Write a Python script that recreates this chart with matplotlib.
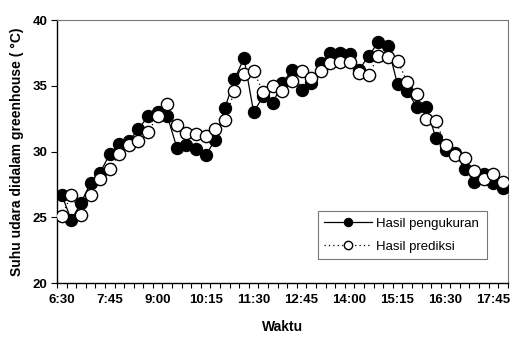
#!/usr/bin/env python3

import matplotlib
matplotlib.use("Agg")
import matplotlib.pyplot as plt
from matplotlib.ticker import FixedLocator

plt.rcParams["font.family"] = ["Liberation Sans", "DejaVu Sans"]

# 15-minute readings, 6:30 .. 18:00
times = ["6:30", "6:45", "7:00", "7:15", "7:30", "7:45", "8:00", "8:15", "8:30", "8:45",
         "9:00", "9:15", "9:30", "9:45", "10:00", "10:15", "10:30", "10:45", "11:00", "11:15",
         "11:30", "11:45", "12:00", "12:15", "12:30", "12:45", "13:00", "13:15", "13:30", "13:45",
         "14:00", "14:15", "14:30", "14:45", "15:00", "15:15", "15:30", "15:45", "16:00", "16:15",
         "16:30", "16:45", "17:00", "17:15", "17:30", "17:45", "18:00"]

pengukuran = [26.7, 24.8, 26.1, 27.6, 28.4, 29.8, 30.6, 30.8, 31.7, 32.7,
              33.0, 32.7, 30.3, 30.5, 30.2, 29.7, 30.9, 33.3, 35.5, 37.1,
              33.0, 34.2, 33.7, 35.2, 36.2, 34.7, 35.2, 36.7, 37.5, 37.5,
              37.4, 36.2, 37.3, 38.3, 38.0, 35.1, 34.6, 33.4, 33.4, 31.0,
              30.1, 29.9, 28.7, 27.7, 28.3, 27.6, 27.2]

prediksi = [25.1, 26.7, 25.2, 26.7, 27.9, 28.7, 29.8, 30.5, 30.8, 31.5,
            32.7, 33.6, 32.0, 31.4, 31.3, 31.2, 31.7, 32.4, 34.6, 35.9,
            36.1, 34.5, 35.0, 34.6, 35.4, 36.1, 35.6, 36.1, 36.7, 36.8,
            36.8, 36.0, 35.8, 37.3, 37.2, 36.9, 35.3, 34.4, 32.5, 32.3,
            30.5, 29.7, 29.5, 28.5, 27.9, 28.3, 27.7]

y_ticks = [20, 25, 30, 35, 40]


def main():
    fig = plt.figure(figsize=(5.13, 3.39), dpi=100)
    ax = fig.add_axes([0.111, 0.165, 0.879, 0.776])

    x = list(range(len(times)))

    ax.plot(x, pengukuran, color="black", lw=0.9, marker="o", ms=8.8,
            mfc="black", mec="black", mew=0.8, label="Hasil pengukuran", zorder=3)
    ax.plot(x, prediksi, color="black", lw=0.9, ls=(0, (1, 2.5)), marker="o", ms=8.8,
            mfc="white", mec="black", mew=1.0, label="Hasil prediksi", zorder=4)

    ax.set_xlim(-0.5, len(times) - 0.5)
    ax.set_ylim(20, 40)

    # category axis: tick marks between categories, labels every 5th
    ax.set_xticks(x[::5])
    ax.set_xticklabels(times[::5], fontsize=9.5, fontweight="bold")
    ax.xaxis.set_minor_locator(FixedLocator([i - 0.5 for i in range(len(times) + 1)]))
    ax.tick_params(axis="x", which="major", length=0, pad=8)
    ax.tick_params(axis="x", which="minor", length=3.5, width=0.8, direction="out")

    ax.set_yticks(y_ticks)
    ax.set_yticklabels([str(v) for v in y_ticks], fontsize=9.5, fontweight="bold")
    ax.tick_params(axis="y", length=4, width=0.8, direction="out", pad=3)

    ax.set_xlabel("Waktu", fontsize=10, fontweight="bold", labelpad=10)
    ax.set_ylabel("Suhu udara didalam greenhouse ( °C)", fontsize=10,
                  fontweight="bold", labelpad=6)

    for side in ["left", "bottom"]:
        ax.spines[side].set_linewidth(1.0)
        ax.spines[side].set_color("black")
    for side in ["top", "right"]:
        ax.spines[side].set_linewidth(0.8)
        ax.spines[side].set_color("#777777")
        ax.spines[side].set_linestyle((0, (1, 1)))

    leg = ax.legend(loc="lower left", bbox_to_anchor=(0.578, 0.09, 0.375, 0.21),
                    mode="expand", fontsize=9.5, frameon=True, fancybox=False,
                    handlelength=3.6, borderpad=0.5, labelspacing=0.8,
                    handletextpad=0.3, borderaxespad=0)
    leg.get_frame().set_edgecolor("#555555")
    leg.get_frame().set_linewidth(0.8)
    for h in leg.legend_handles:
        h.set_markersize(6)

    fig.savefig("out.png", dpi=100)
    print("Saved: out.png")


if __name__ == "__main__":
    main()
